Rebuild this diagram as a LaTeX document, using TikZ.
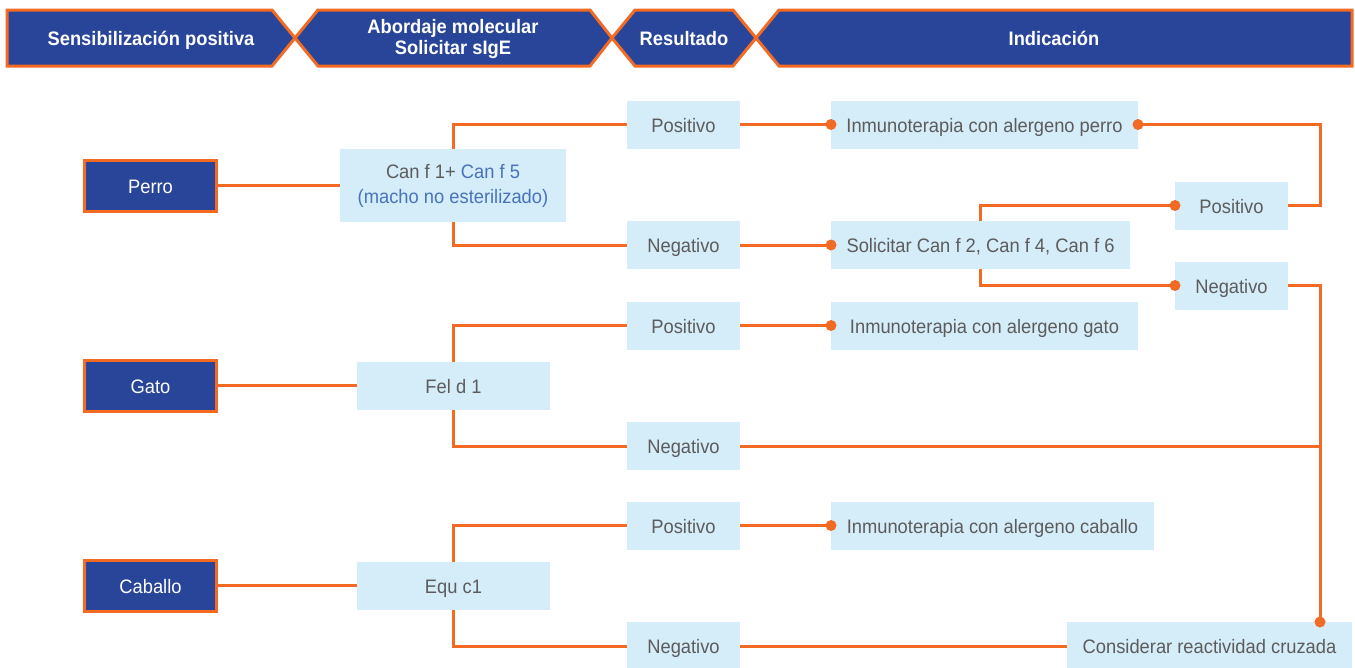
\documentclass[tikz,border=0pt]{standalone}
\usepackage{fontspec}
\setmainfont{Liberation Sans}[FakeStretch=0.94]
\definecolor{org}{RGB}{242,106,36}
\definecolor{dblue}{RGB}{40,69,153}
\definecolor{lblue}{RGB}{213,236,249}
\definecolor{gtxt}{RGB}{92,92,92}
\definecolor{btxt}{RGB}{72,115,190}
\begin{document}
\begin{tikzpicture}[x=1pt,y=-1pt,
  lb/.style={fill=lblue, text=gtxt, inner sep=0pt, outer sep=0pt, minimum height=48pt, font=\fontsize{19.5}{25}\selectfont, align=center},
  one/.style={text height=15pt, text depth=0pt},
  db/.style={fill=dblue, draw=org, line width=3pt, text=white, inner sep=0pt, outer sep=0pt, minimum width=132pt, minimum height=51pt, font=\fontsize{19.5}{23}\selectfont, text height=15pt, text depth=0pt},
  hb/.style={fill=dblue, draw=org, line width=3pt},
  ht/.style={text=white, inner sep=0pt, font=\bfseries\fontsize{19.5}{21}\selectfont, align=center},
  conn/.style={draw=org, line width=3pt},
  dotr/.style={fill=org}
]
\useasboundingbox (0,0) rectangle (1355,667);

% header
\path[hb] (7,10) -- (272,10) -- (295,38) -- (272,66) -- (7,66) -- cycle;
\path[hb] (318,10) -- (590,10) -- (612,38) -- (590,66) -- (318,66) -- (295,38) -- cycle;
\path[hb] (635,10) -- (733,10) -- (756,38) -- (733,66) -- (635,66) -- (612,38) -- cycle;
\path[hb] (779,10) -- (1352,10) -- (1352,66) -- (779,66) -- (756,38) -- cycle;
\node[ht, one] (h1) at (151,38) {Sensibilización positiva};
\node[ht] (h2) at (453,38.5) {Abordaje molecular\\Solicitar sIgE};
\node[ht, one] (h3) at (684,38) {Resultado};
\node[ht, one] (h4) at (1054,38) {Indicación};

% column 1
\node[db] (perro) at (150.5,185.5) {Perro};
\node[db] (gato) at (150.5,385.5) {Gato};
\node[db] (caballo) at (150.5,585.5) {Caballo};

% column 2
\node[lb, minimum width=226pt, minimum height=73pt] (canf) at (453,185.5)
  {Can f 1+ {\color{btxt}Can f 5}\\{\color{btxt}(macho no esterilizado)}};
\node[lb, one, minimum width=193pt] (fel) at (453.5,385.5) {Fel d 1};
\node[lb, one, minimum width=193pt] (equ) at (453.5,585.5) {Equ c1};

% column 3
\node[lb, one, minimum width=113pt] (posP) at (683.5,124.5) {Positivo};
\node[lb, one, minimum width=113pt] (negP) at (683.5,245) {Negativo};
\node[lb, one, minimum width=113pt] (posG) at (683.5,325.5) {Positivo};
\node[lb, one, minimum width=113pt] (negG) at (683.5,446) {Negativo};
\node[lb, one, minimum width=113pt] (posC) at (683.5,525.5) {Positivo};
\node[lb, one, minimum width=113pt] (negC) at (683.5,646) {Negativo};

% column 4
\node[lb, one, minimum width=307pt] (inmP) at (984.5,124.5) {Inmunoterapia con alergeno perro};
\node[lb, one, minimum width=299pt] (sol) at (980.5,245) {Solicitar Can f 2, Can f 4, Can f 6};
\node[lb, one, minimum width=307pt] (inmG) at (984.5,325.5) {Inmunoterapia con alergeno gato};
\node[lb, one, minimum width=323pt] (inmC) at (992.5,525.5) {Inmunoterapia con alergeno caballo};

% column 5
\node[lb, one, minimum width=113pt] (pos2) at (1231.5,205.5) {Positivo};
\node[lb, one, minimum width=113pt] (neg2) at (1231.5,285.5) {Negativo};
\node[lb, one, minimum width=285pt] (cons) at (1209.5,646) {Considerar reactividad cruzada};

\coordinate (rx) at (1320,0);

% connectors
\draw[conn] (perro.east) -- (canf.west);
\draw[conn] (gato.east) -- (fel.west);
\draw[conn] (caballo.east) -- (equ.west);

\draw[conn] (canf.north) |- (posP.west);
\draw[conn] (canf.south) |- (negP.west);
\draw[conn] (fel.north) |- (posG.west);
\draw[conn] (fel.south) |- (negG.west);
\draw[conn] (equ.north) |- (posC.west);
\draw[conn] (equ.south) |- (negC.west);

\draw[conn] (posP.east) -- (inmP.west);
\draw[conn] (negP.east) -- (sol.west);
\draw[conn] (posG.east) -- (inmG.west);
\draw[conn] (posC.east) -- (inmC.west);

\draw[conn] (sol.north) |- (pos2.west);
\draw[conn] (sol.south) |- (neg2.west);

\draw[conn] (inmP.east) -- (inmP.east -| rx) |- (pos2.east);
\draw[conn] (neg2.east) -- (neg2.east -| rx) -- (rx |- cons.north);
\draw[conn] (negG.east) -- (negG.east -| rx);
\draw[conn] (negC.east) -- (cons.west);

% dots
\foreach \p in {inmP.west, inmP.east, sol.west, inmG.west, inmC.west, pos2.west, neg2.west}
  \fill[dotr] (\p) circle[radius=5.5pt];
\fill[dotr] (rx |- cons.north) circle[radius=5.5pt];
\end{tikzpicture}
\end{document}
